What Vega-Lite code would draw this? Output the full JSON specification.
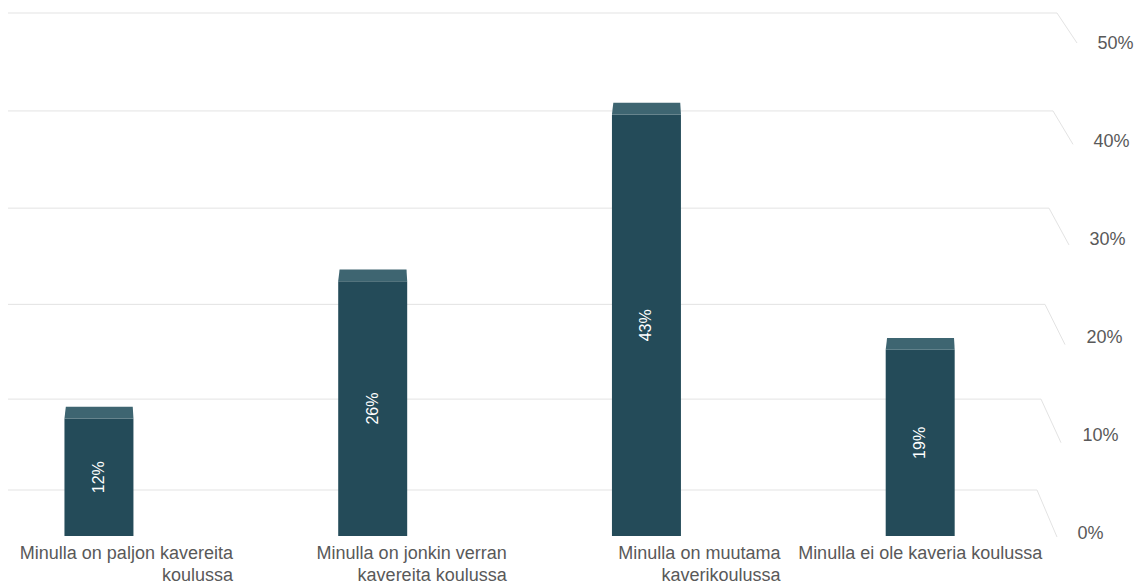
{
  "$schema": "https://vega.github.io/schema/vega-lite/v6.json",
  "width": 1049,
  "height": 523,
  "autosize": "none",
  "padding": {"left": 8, "top": 13, "right": 89, "bottom": 49},
  "background": "white",
  "config": {"view": {"stroke": null}, "font": "Liberation Sans"},
  "datasets": {
    "vastaukset": [
      {"vastaus": "Minulla on paljon kavereita koulussa", "osuus": 0.12},
      {"vastaus": "Minulla on jonkin verran kavereita koulussa", "osuus": 0.26},
      {"vastaus": "Minulla on muutama kaverikoulussa", "osuus": 0.43},
      {"vastaus": "Minulla ei ole kaveria koulussa", "osuus": 0.19}
    ],
    "asteikko": [
      {"arvo": 0}, {"arvo": 0.1}, {"arvo": 0.2}, {"arvo": 0.3}, {"arvo": 0.4}, {"arvo": 0.5}
    ]
  },
  "layer": [
    {
      "data": {"name": "asteikko"},
      "mark": {"type": "rule", "color": "#e3e3e3", "strokeWidth": 1},
      "encoding": {
        "y": {"field": "arvo", "type": "quantitative", "scale": {"type": "pow", "exponent": 1.03, "domain": [0, 0.5], "range": [477, 0]}, "axis": null},
        "x": {"field": "arvo", "type": "quantitative", "scale": {"domain": [0, 0.5], "range": [1029, 1049]}, "axis": null},
        "x2": {"value": 0}
      }
    },
    {
      "data": {"name": "asteikko"},
      "mark": {"type": "rule", "color": "#e3e3e3", "strokeWidth": 1, "x2Offset": 20, "y2Offset": {"expr": "47 - 34*datum.arvo"}},
      "encoding": {
        "y": {"field": "arvo", "type": "quantitative", "scale": {"type": "pow", "exponent": 1.03, "domain": [0, 0.5], "range": [477, 0]}, "axis": null},
        "y2": {"field": "arvo"},
        "x": {"field": "arvo", "type": "quantitative", "scale": {"domain": [0, 0.5], "range": [1029, 1049]}, "axis": null},
        "x2": {"field": "arvo"}
      }
    },
    {
      "data": {"name": "vastaukset"},
      "mark": {"type": "bar", "color": "#244b59"},
      "encoding": {
        "x": {
          "field": "vastaus", "type": "nominal", "sort": null,
          "scale": {"type": "band", "paddingInner": 0.748, "paddingOuter": 0.29, "align": 0.3556},
          "axis": {
            "title": null, "domain": false, "ticks": false, "tickSize": 0,
            "labelAngle": 0, "labelFontSize": 18, "labelColor": "#595959",
            "labelPadding": 8, "labelLimit": 400, "labelLineHeight": 22,
            "labelBaseline": "top", "labelOverlap": false,
            "labelAlign": {"condition": {"test": "datum.value === 'Minulla ei ole kaveria koulussa'", "value": "center"}, "value": "right"},
            "labelOffset": {"condition": {"test": "datum.value === 'Minulla ei ole kaveria koulussa'", "value": 0}, "value": 134},
            "labelExpr": "datum.value === 'Minulla on paljon kavereita koulussa' ? ['Minulla on paljon kavereita', 'koulussa'] : datum.value === 'Minulla on jonkin verran kavereita koulussa' ? ['Minulla on jonkin verran', 'kavereita koulussa'] : datum.value === 'Minulla on muutama kaverikoulussa' ? ['Minulla on muutama', 'kaverikoulussa'] : datum.value"
          }
        },
        "y": {
          "field": "osuus", "type": "quantitative",
          "scale": {"domain": [0, 0.5], "range": [523, 33]},
          "axis": {
            "orient": "right", "title": null, "values": [0, 0.1, 0.2, 0.3, 0.4, 0.5], "format": ".0%",
            "grid": false, "domain": false, "ticks": false, "tickSize": 0,
            "labelFontSize": 18, "labelColor": "#595959", "labelOffset": -3, "labelAlign": "left",
            "labelPadding": {"condition": [
              {"test": "datum.value < 0.05", "value": 20},
              {"test": "datum.value < 0.15", "value": 25},
              {"test": "datum.value < 0.25", "value": 29},
              {"test": "datum.value < 0.35", "value": 32},
              {"test": "datum.value < 0.45", "value": 36}
            ], "value": 40}
          }
        }
      }
    },
    {
      "data": {"name": "vastaukset"},
      "mark": {"type": "point", "shape": "M-1,0 L1,0 L0.98,-0.34 L-0.96,-0.34 Z", "filled": true, "opacity": 1, "color": "#3e6571", "size": 4761, "strokeWidth": 0},
      "encoding": {
        "x": {"field": "vastaus", "type": "nominal", "sort": null, "scale": {"type": "band", "paddingInner": 0.748, "paddingOuter": 0.29, "align": 0.3556}, "axis": null},
        "y": {"field": "osuus", "type": "quantitative", "scale": {"domain": [0, 0.5], "range": [523, 33]}, "axis": null}
      }
    },
    {
      "data": {"name": "vastaukset"},
      "mark": {"type": "text", "angle": 270, "color": "white", "fontSize": 16, "baseline": "middle", "align": "center"},
      "encoding": {
        "x": {"field": "vastaus", "type": "nominal", "sort": null, "scale": {"type": "band", "paddingInner": 0.748, "paddingOuter": 0.29, "align": 0.3556}, "axis": null},
        "y": {"field": "osuus", "type": "quantitative", "scale": {"domain": [0, 1], "range": [523, 33]}, "axis": null},
        "text": {"field": "osuus", "type": "quantitative", "format": ".0%"}
      }
    }
  ],
  "resolve": {"scale": {"x": "independent", "y": "independent"}}
}
